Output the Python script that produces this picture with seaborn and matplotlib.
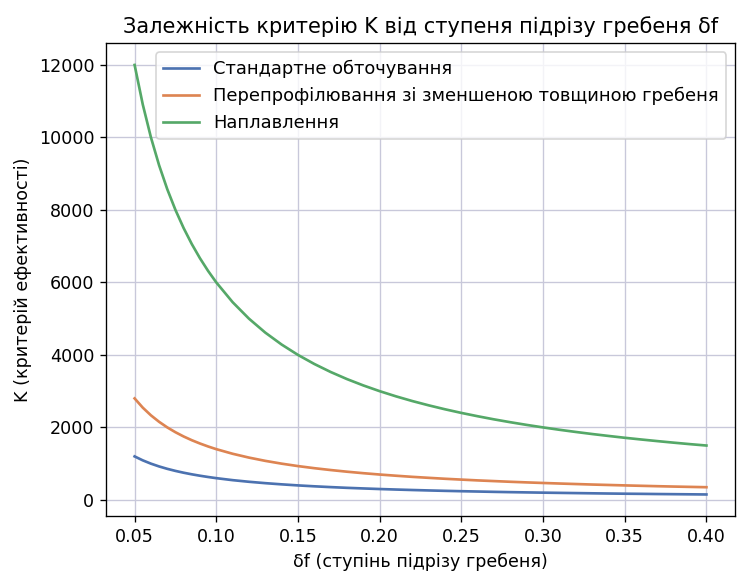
import matplotlib
matplotlib.use("Agg")
import matplotlib.pyplot as plt
import seaborn as sns
import pandas as pd

delta_f = [0.050, 0.055, 0.060, 0.065, 0.070, 0.075, 0.080, 0.085, 0.090, 0.095,
           0.10, 0.11, 0.12, 0.13, 0.14, 0.15, 0.16,
           0.17, 0.18, 0.19, 0.20, 0.21, 0.22, 0.23, 0.24, 0.25, 0.26, 0.27, 0.28,
           0.29, 0.30, 0.31, 0.32, 0.33, 0.34, 0.35, 0.36, 0.37, 0.38, 0.39, 0.40]

k_standard = [1200, 1091, 1000, 923, 857, 800, 750, 706, 667, 632,
              600, 545, 500, 462, 429, 400, 375,
              353, 333, 316, 300, 286, 273, 261, 250, 240, 231, 222, 214,
              207, 200, 194, 188, 182, 176, 171, 167, 162, 158, 154, 150]

k_reprofile = [2800, 2545, 2333, 2154, 2000, 1867, 1750, 1647, 1556, 1474,
               1400, 1273, 1167, 1077, 1000, 933, 875,
               824, 778, 737, 700, 667, 636, 609, 583, 560, 538, 519, 500,
               483, 467, 452, 438, 424, 412, 400, 389, 378, 368, 359, 350]

k_surfacing = [12000, 10909, 10000, 9231, 8571, 8000, 7500, 7059, 6667, 6316,
               6000, 5455, 5000, 4615, 4286, 4000, 3750,
               3529, 3333, 3158, 3000, 2857, 2727, 2609, 2500, 2400, 2308, 2222, 2143,
               2069, 2000, 1935, 1875, 1818, 1765, 1714, 1667, 1622, 1579, 1538, 1500]

series_names = ["Стандартне обточування",
                "Перепрофілювання зі зменшеною товщиною гребеня",
                "Наплавлення"]

rows = []
for name, vals in zip(series_names, [k_standard, k_reprofile, k_surfacing]):
    for x, y in zip(delta_f, vals):
        rows.append({"x": x, "K": y, "method": name})
df = pd.DataFrame(rows)

plt.rcParams["font.family"] = ["DejaVu Sans"]
fig, ax = plt.subplots(figsize=(745 / 120, 572 / 120), dpi=120)
fig.subplots_adjust(left=0.1423, right=0.9866, top=0.924, bottom=0.098)

sns.lineplot(data=df, x="x", y="K", hue="method", hue_order=series_names,
             palette=sns.color_palette("deep", 3), linewidth=1.6, ax=ax)

ax.grid(True, color="#c8c8da", linewidth=0.8)
ax.set_axisbelow(True)
ax.tick_params(labelsize=10.5)
ax.set_title("Залежність критерію K від ступеня підрізу гребеня δf", fontsize=12.5)
ax.set_xlabel("δf (ступінь підрізу гребеня)", fontsize=10.5)
ax.set_ylabel("K (критерій ефективності)", fontsize=10.5)
ax.legend(loc="upper right", title=None, fontsize=10.7)

fig.savefig("out.png", dpi=120)
